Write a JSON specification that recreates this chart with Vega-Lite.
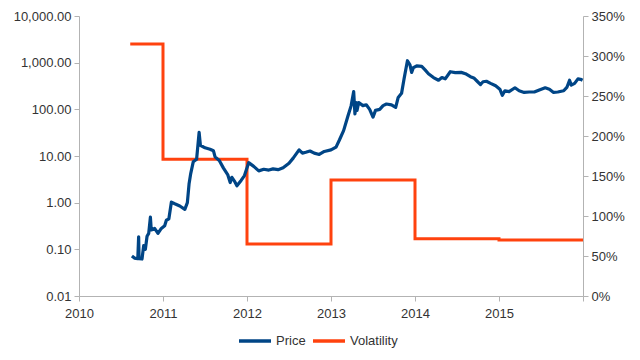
{
  "$schema": "https://vega.github.io/schema/vega-lite/v6.json",
  "autosize": {"type": "none"},
  "padding": {"left": 79, "top": 16, "right": 57, "bottom": 64},
  "width": 504,
  "height": 280,
  "background": "white",
  "config": {
    "view": {"stroke": null},
    "font": "Liberation Sans",
    "axis": {"grid": false, "domainColor": "#b3b3b3", "tickColor": "#b3b3b3", "tickSize": 5, "labelFont": "Liberation Sans", "labelFontSize": 13, "labelColor": "#333333", "title": null, "labelPadding": 3}
  },
  "datasets": {
    "price": [
      {"year": 2010.63, "v": 0.072, "series": "Price"},
      {"year": 2010.66, "v": 0.065, "series": "Price"},
      {"year": 2010.70, "v": 0.063, "series": "Price"},
      {"year": 2010.71, "v": 0.185, "series": "Price"},
      {"year": 2010.715, "v": 0.063, "series": "Price"},
      {"year": 2010.75, "v": 0.062, "series": "Price"},
      {"year": 2010.77, "v": 0.12, "series": "Price"},
      {"year": 2010.79, "v": 0.10, "series": "Price"},
      {"year": 2010.81, "v": 0.19, "series": "Price"},
      {"year": 2010.83, "v": 0.22, "series": "Price"},
      {"year": 2010.85, "v": 0.49, "series": "Price"},
      {"year": 2010.86, "v": 0.26, "series": "Price"},
      {"year": 2010.90, "v": 0.28, "series": "Price"},
      {"year": 2010.94, "v": 0.22, "series": "Price"},
      {"year": 2010.98, "v": 0.28, "series": "Price"},
      {"year": 2011.02, "v": 0.32, "series": "Price"},
      {"year": 2011.04, "v": 0.42, "series": "Price"},
      {"year": 2011.07, "v": 0.45, "series": "Price"},
      {"year": 2011.10, "v": 1.03, "series": "Price"},
      {"year": 2011.14, "v": 0.95, "series": "Price"},
      {"year": 2011.20, "v": 0.85, "series": "Price"},
      {"year": 2011.26, "v": 0.72, "series": "Price"},
      {"year": 2011.29, "v": 1.0, "series": "Price"},
      {"year": 2011.31, "v": 2.5, "series": "Price"},
      {"year": 2011.33, "v": 4.2, "series": "Price"},
      {"year": 2011.36, "v": 7.5, "series": "Price"},
      {"year": 2011.40, "v": 8.5, "series": "Price"},
      {"year": 2011.43, "v": 32, "series": "Price"},
      {"year": 2011.445, "v": 17, "series": "Price"},
      {"year": 2011.50, "v": 15, "series": "Price"},
      {"year": 2011.56, "v": 14, "series": "Price"},
      {"year": 2011.60, "v": 13, "series": "Price"},
      {"year": 2011.62, "v": 9.6, "series": "Price"},
      {"year": 2011.67, "v": 8, "series": "Price"},
      {"year": 2011.72, "v": 5.5, "series": "Price"},
      {"year": 2011.77, "v": 4.0, "series": "Price"},
      {"year": 2011.80, "v": 2.7, "series": "Price"},
      {"year": 2011.82, "v": 3.5, "series": "Price"},
      {"year": 2011.85, "v": 2.9, "series": "Price"},
      {"year": 2011.88, "v": 2.3, "series": "Price"},
      {"year": 2011.93, "v": 3.0, "series": "Price"},
      {"year": 2011.97, "v": 3.8, "series": "Price"},
      {"year": 2012.02, "v": 7.2, "series": "Price"},
      {"year": 2012.08, "v": 6.0, "series": "Price"},
      {"year": 2012.14, "v": 4.8, "series": "Price"},
      {"year": 2012.20, "v": 5.2, "series": "Price"},
      {"year": 2012.26, "v": 5.0, "series": "Price"},
      {"year": 2012.31, "v": 5.3, "series": "Price"},
      {"year": 2012.37, "v": 5.1, "series": "Price"},
      {"year": 2012.43, "v": 5.6, "series": "Price"},
      {"year": 2012.50, "v": 7.0, "series": "Price"},
      {"year": 2012.55, "v": 9.0, "series": "Price"},
      {"year": 2012.62, "v": 13.5, "series": "Price"},
      {"year": 2012.66, "v": 11.5, "series": "Price"},
      {"year": 2012.70, "v": 12.0, "series": "Price"},
      {"year": 2012.75, "v": 12.8, "series": "Price"},
      {"year": 2012.80, "v": 11.5, "series": "Price"},
      {"year": 2012.86, "v": 10.8, "series": "Price"},
      {"year": 2012.92, "v": 12.5, "series": "Price"},
      {"year": 2013.00, "v": 13.5, "series": "Price"},
      {"year": 2013.06, "v": 15.5, "series": "Price"},
      {"year": 2013.10, "v": 22, "series": "Price"},
      {"year": 2013.15, "v": 35, "series": "Price"},
      {"year": 2013.20, "v": 70, "series": "Price"},
      {"year": 2013.24, "v": 120, "series": "Price"},
      {"year": 2013.27, "v": 240, "series": "Price"},
      {"year": 2013.285, "v": 80, "series": "Price"},
      {"year": 2013.30, "v": 140, "series": "Price"},
      {"year": 2013.31, "v": 95, "series": "Price"},
      {"year": 2013.33, "v": 140, "series": "Price"},
      {"year": 2013.38, "v": 120, "series": "Price"},
      {"year": 2013.42, "v": 125, "series": "Price"},
      {"year": 2013.46, "v": 100, "series": "Price"},
      {"year": 2013.50, "v": 68, "series": "Price"},
      {"year": 2013.53, "v": 95, "series": "Price"},
      {"year": 2013.58, "v": 100, "series": "Price"},
      {"year": 2013.62, "v": 120, "series": "Price"},
      {"year": 2013.66, "v": 130, "series": "Price"},
      {"year": 2013.72, "v": 125, "series": "Price"},
      {"year": 2013.77, "v": 110, "series": "Price"},
      {"year": 2013.80, "v": 180, "series": "Price"},
      {"year": 2013.84, "v": 220, "series": "Price"},
      {"year": 2013.87, "v": 450, "series": "Price"},
      {"year": 2013.91, "v": 1100, "series": "Price"},
      {"year": 2013.94, "v": 900, "series": "Price"},
      {"year": 2013.96, "v": 620, "series": "Price"},
      {"year": 2013.98, "v": 780, "series": "Price"},
      {"year": 2014.02, "v": 850, "series": "Price"},
      {"year": 2014.08, "v": 830, "series": "Price"},
      {"year": 2014.12, "v": 700, "series": "Price"},
      {"year": 2014.16, "v": 580, "series": "Price"},
      {"year": 2014.22, "v": 480, "series": "Price"},
      {"year": 2014.28, "v": 420, "series": "Price"},
      {"year": 2014.32, "v": 480, "series": "Price"},
      {"year": 2014.36, "v": 450, "series": "Price"},
      {"year": 2014.42, "v": 640, "series": "Price"},
      {"year": 2014.48, "v": 610, "series": "Price"},
      {"year": 2014.55, "v": 620, "series": "Price"},
      {"year": 2014.60, "v": 580, "series": "Price"},
      {"year": 2014.66, "v": 500, "series": "Price"},
      {"year": 2014.70, "v": 470, "series": "Price"},
      {"year": 2014.74, "v": 400, "series": "Price"},
      {"year": 2014.78, "v": 340, "series": "Price"},
      {"year": 2014.81, "v": 390, "series": "Price"},
      {"year": 2014.85, "v": 400, "series": "Price"},
      {"year": 2014.90, "v": 360, "series": "Price"},
      {"year": 2014.96, "v": 320, "series": "Price"},
      {"year": 2015.01, "v": 270, "series": "Price"},
      {"year": 2015.04, "v": 200, "series": "Price"},
      {"year": 2015.07, "v": 250, "series": "Price"},
      {"year": 2015.12, "v": 240, "series": "Price"},
      {"year": 2015.19, "v": 290, "series": "Price"},
      {"year": 2015.24, "v": 250, "series": "Price"},
      {"year": 2015.30, "v": 230, "series": "Price"},
      {"year": 2015.36, "v": 235, "series": "Price"},
      {"year": 2015.42, "v": 235, "series": "Price"},
      {"year": 2015.48, "v": 260, "series": "Price"},
      {"year": 2015.55, "v": 290, "series": "Price"},
      {"year": 2015.60, "v": 270, "series": "Price"},
      {"year": 2015.65, "v": 230, "series": "Price"},
      {"year": 2015.70, "v": 235, "series": "Price"},
      {"year": 2015.77, "v": 250, "series": "Price"},
      {"year": 2015.81, "v": 300, "series": "Price"},
      {"year": 2015.84, "v": 420, "series": "Price"},
      {"year": 2015.86, "v": 330, "series": "Price"},
      {"year": 2015.90, "v": 360, "series": "Price"},
      {"year": 2015.94, "v": 450, "series": "Price"},
      {"year": 2015.97, "v": 440, "series": "Price"},
      {"year": 2015.995, "v": 420, "series": "Price"}
    ],
    "vol": [
      {"year": 2010.61, "v": 3.15, "series": "Volatility"},
      {"year": 2011.0, "v": 1.71, "series": "Volatility"},
      {"year": 2012.0, "v": 0.65, "series": "Volatility"},
      {"year": 2013.0, "v": 1.45, "series": "Volatility"},
      {"year": 2014.0, "v": 0.715, "series": "Volatility"},
      {"year": 2015.0, "v": 0.70, "series": "Volatility"},
      {"year": 2016.0, "v": 0.70, "series": "Volatility"}
    ]
  },
  "encoding": {
    "x": {"field": "year", "type": "quantitative", "scale": {"domain": [2010, 2016], "nice": false, "zero": false},
      "axis": {"values": [2010, 2011, 2012, 2013, 2014, 2015, 2016], "format": "d", "labelFlush": false, "labelExpr": "datum.value == 2016 ? '' : datum.label", "labelPadding": 6}},
    "color": {"field": "series", "type": "nominal",
      "scale": {"domain": ["Price", "Volatility"], "range": ["#004586", "#ff420e"]},
      "legend": {"orient": "none", "legendX": 158, "legendY": 307, "direction": "horizontal", "gridAlign": "none", "title": null, "padding": 0, "symbolType": "stroke", "symbolSize": 1024, "symbolStrokeWidth": 3.5, "labelFont": "Liberation Sans", "labelFontSize": 13, "labelColor": "#333333", "columnPadding": 0, "labelOffset": 3}}
  },
  "layer": [
    {
      "data": {"name": "vol"},
      "mark": {"type": "line", "interpolate": "step-after", "strokeWidth": 3},
      "encoding": {
        "y": {"field": "v", "type": "quantitative", "scale": {"domain": [0, 3.5], "nice": false},
          "axis": {"orient": "right", "values": [0, 0.5, 1, 1.5, 2, 2.5, 3, 3.5], "format": ".0%"}}
      }
    },
    {
      "data": {"name": "price"},
      "mark": {"type": "line", "strokeWidth": 3.2, "strokeJoin": "round"},
      "encoding": {
        "y": {"field": "v", "type": "quantitative", "scale": {"type": "log", "domain": [0.01, 10000], "nice": false},
          "axis": {"orient": "left", "values": [0.01, 0.1, 1, 10, 100, 1000, 10000], "format": ",.2f"}}
      }
    }
  ],
  "resolve": {"scale": {"y": "independent"}}
}
